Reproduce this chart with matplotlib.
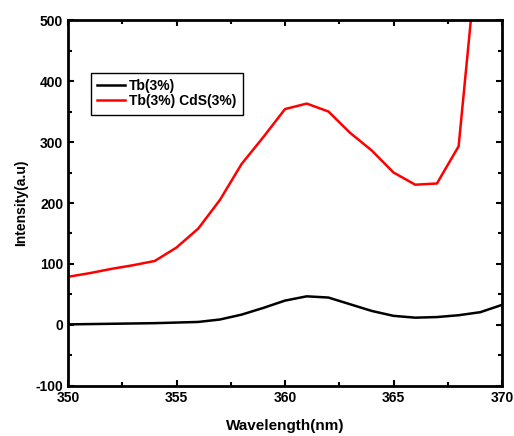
import matplotlib
matplotlib.use("Agg")
from matplotlib import pyplot as plt
from matplotlib.ticker import MultipleLocator

plt.rcParams['font.family'] = ['Liberation Sans', 'DejaVu Sans']
plt.rcParams['font.weight'] = 'bold'
plt.rcParams['axes.unicode_minus'] = False

# wavelength (nm)
wavelength = [350, 351, 352, 353, 354, 355, 356, 357, 358, 359, 360,
              361, 362, 363, 364, 365, 366, 367, 368, 369, 370]
# Tb(3%)
tb = [1, 1.5, 2, 2.5, 3, 4, 5, 9, 17, 28, 40,
      47, 45, 34, 23, 15, 12, 13, 16, 21, 33]
# Tb(3%) CdS(3%)
tb_cds = [79, 85, 92, 98, 105, 127, 158, 205, 264, 308, 354,
          363, 350, 315, 286, 250, 230, 232, 293, 660, 1000]

fig = plt.figure(figsize=(5.14, 4.36), dpi=100)
ax = fig.add_axes([0.1323, 0.1147, 0.8444, 0.8394])

ax.plot(wavelength, tb, color='black', lw=1.8, label='Tb(3%)')
ax.plot(wavelength, tb_cds, color='red', lw=1.8, label='Tb(3%) CdS(3%)')

ax.set_xlim(350, 370)
ax.set_ylim(-100, 500)
ax.xaxis.set_major_locator(MultipleLocator(5))
ax.xaxis.set_minor_locator(MultipleLocator(2.5))
ax.yaxis.set_major_locator(MultipleLocator(100))
ax.yaxis.set_minor_locator(MultipleLocator(50))
ax.tick_params(which='both', direction='in', top=True, right=True,
               width=1.5, labelsize=10)
ax.tick_params(which='major', length=4)
ax.tick_params(which='minor', length=3)
for s in ax.spines.values():
    s.set_linewidth(2)

ax.set_xlabel('Wavelength(nm)', fontsize=11, fontweight='bold', labelpad=10)
ax.set_ylabel('Intensity(a.u)', fontsize=10, fontweight='bold', labelpad=5)

leg = ax.legend(loc='upper left', bbox_to_anchor=(0.053, 0.856),
                borderaxespad=0, fancybox=False, edgecolor='black',
                fontsize=10, handlelength=2.0, borderpad=0.45,
                labelspacing=0.1, handletextpad=0.3)
leg.get_frame().set_linewidth(1)
leg.get_frame().set_alpha(1)

fig.savefig('out.png', dpi=100)
